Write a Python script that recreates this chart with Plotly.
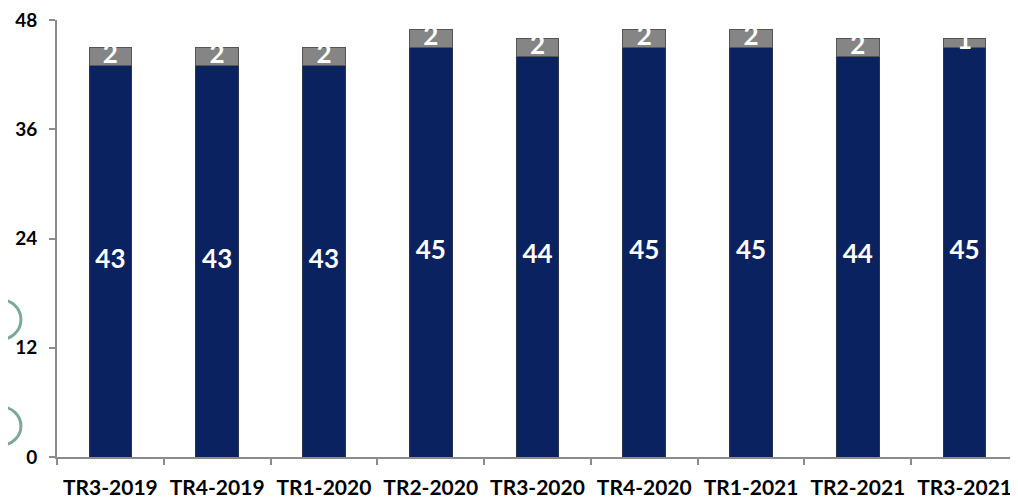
import plotly.graph_objects as go

trimestres = ['TR3-2019', 'TR4-2019', 'TR1-2020', 'TR2-2020', 'TR3-2020',
              'TR4-2020', 'TR1-2021', 'TR2-2021', 'TR3-2021']
azul = [43, 43, 43, 45, 44, 45, 45, 44, 45]
cinza = [2, 2, 2, 2, 2, 2, 2, 2, 1]
ticks_y = [0, 12, 24, 36, 48]

fonte = 'Lato'

fig = go.Figure()
fig.add_trace(go.Bar(
    x=trimestres, y=azul,
    marker=dict(color='#0B2260', line=dict(color='#2B3550', width=1)),
    showlegend=False, hoverinfo='skip'
))
fig.add_trace(go.Bar(
    x=trimestres, y=cinza,
    marker=dict(color='#858585', line=dict(color='#555555', width=1)),
    showlegend=False, hoverinfo='skip'
))

# rotulos (centro de cada segmento)
fig.add_trace(go.Scatter(
    x=trimestres, y=[a / 2 for a in azul], mode='text',
    text=[str(a) for a in azul],
    textfont=dict(family=fonte, size=26, color='white', weight='bold'),
    showlegend=False
))
fig.add_trace(go.Scatter(
    x=trimestres, y=[a + c / 2 for a, c in zip(azul, cinza)], mode='text',
    text=[str(c) for c in cinza],
    textfont=dict(family=fonte, size=26, color='white', weight='bold'),
    showlegend=False
))

# decoracao lateral (circulos)
cor_deco = '#7BA89A'
for x0, x1, y0, y1 in [(-0.099, -0.056, 0.455, 0.541),
                       (-0.080, -0.0375, 0.269, 0.360),
                       (-0.080, -0.0375, 0.027, 0.115)]:
    fig.add_shape(type='circle', xref='paper', yref='paper',
                  x0=x0, x1=x1, y0=y0, y1=y1,
                  line=dict(color=cor_deco, width=3))

fig.update_layout(
    barmode='stack',
    bargap=0.6,
    width=1010, height=491,
    margin=dict(l=49, r=0, t=9, b=40),
    paper_bgcolor='#FFFFFF',
    plot_bgcolor='rgba(0,0,0,0)',
    font=dict(family=fonte, color='black'),
)
fig.update_xaxes(
    showline=True, linecolor='#8C8C8C', linewidth=2,
    ticks='outside', tickson='boundaries', ticklen=6, tickcolor='#8C8C8C', tickwidth=2,
    tickfont=dict(family=fonte, size=21, color='black', weight='bold'),
    ticklabelstandoff=11, showgrid=False
)
fig.update_yaxes(
    range=[0, 48], tickvals=ticks_y,
    showline=True, linecolor='#8C8C8C', linewidth=2,
    ticks='outside', ticklen=6, tickcolor='#8C8C8C', tickwidth=2,
    tickfont=dict(family=fonte, size=19, color='black', weight='bold'),
    ticklabelstandoff=8, ticklabeloverflow='allow',
    showgrid=False, zeroline=False
)

fig.write_html('out.html')
